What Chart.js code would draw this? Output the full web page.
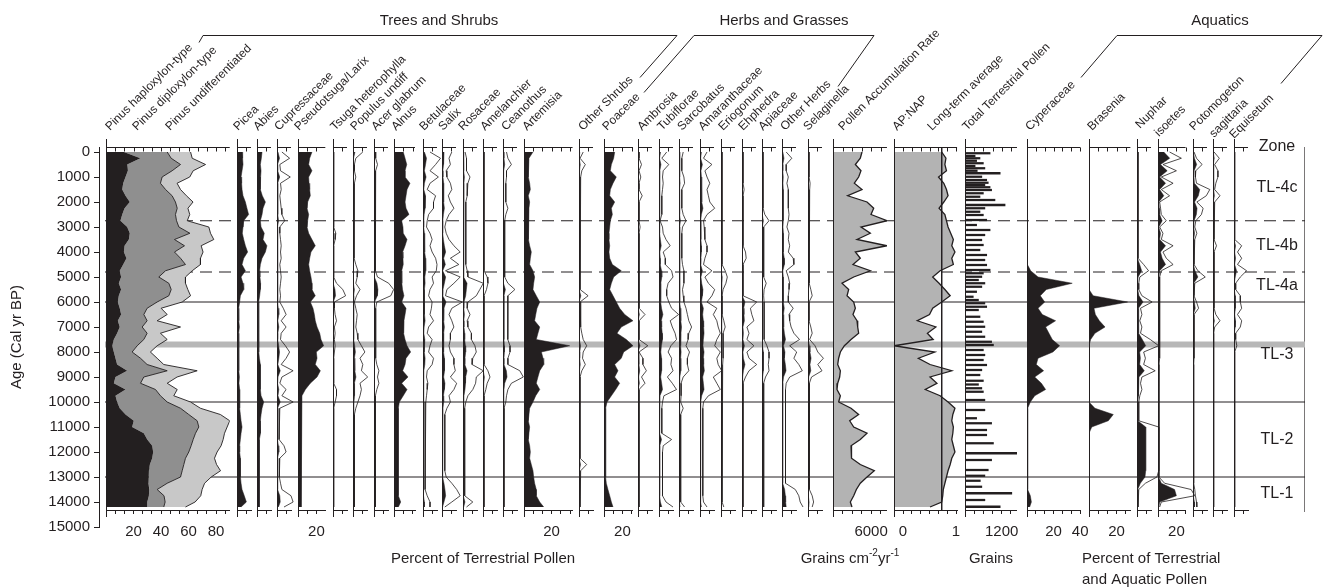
<!DOCTYPE html>
<html>
<head>
<meta charset="utf-8">
<script src="https://cdn.jsdelivr.net/npm/chart.js@4.4.1/dist/chart.umd.min.js"></script>
<style>
  body { margin: 0; background: #fff; }
  #wrap { position: relative; width: 1323px; height: 587px; overflow: hidden; }
  #wrap canvas { position: absolute; top: 0; }
</style>
</head>
<body>
<div id="wrap"><canvas id="bg" width="1323" height="587" style="left:0"></canvas></div>
<script>
const ink = '#231f20';
const fam = '"Liberation Sans", Arial, Helvetica, sans-serif';
Chart.defaults.font.family = fam;
Chart.defaults.color = ink;
Chart.defaults.animation = false;

// sample ages (cal yr BP)
const ages = [0,250,500,750,1000,1250,1500,1750,2000,2250,2500,2750,3000,3250,3500,3750,4000,4250,4500,4750,
  5000,5250,5500,5750,6000,6250,6500,6750,7000,7250,7500,7750,8000,8250,8500,8750,9000,9250,9500,9750,
  10000,10250,10500,10750,11000,11250,11500,11750,12000,12250,12500,12750,13000,13250,13500,13750,14000,14200];

// Pinus (stacked)
const pinusHaplo = [13,25,15.4,15.9,14.2,12.5,11.8,14.2,17.3,13.5,11.8,10.5,15.4,17.3,16.6,13.5,13,14.9,12.5,10,
  11,9.3,11,9.3,8.6,10,11,8.6,10,8.1,5.7,4.5,5.7,6.9,8.1,15.4,6.9,5.7,14.2,6.9,
  8.1,10,14.2,20.2,19,27.5,30,33.6,34.3,33.6,31.9,31.2,30.7,31.2,31.4,31.2,30,30];
const pinusDiplo = [31.5,22.4,38.8,32.2,26.6,27.1,31.5,33.9,33.2,38.3,38.7,40.8,37.6,43.7,33.2,43.6,36.8,39.3,45.3,33.3,
  27.4,36.4,36.4,36.4,28.6,19.9,16.5,21.3,16.3,21.8,21.8,18.2,13.3,18.2,21.8,29.1,20.6,19.4,21.8,32.7,
  36.4,44.2,46,46.1,48.5,37.6,33.4,28.3,25.9,24.2,24.7,24.2,23.5,13.3,5.8,11,13,12];
const pinusUndiff = [17,15.3,18.2,15.3,20.1,12.1,10.9,10.4,12.8,7.8,10.4,7.8,21.8,15,28.6,12.1,20.8,14.5,10.9,19.4,
  19.4,12.1,12.1,15.8,18.2,10.2,17,7.3,27.9,9.7,17,14.5,13.3,12.1,12.1,21.8,24.2,19.4,15.8,9.7,
  17,14.5,23,23.7,20.6,21.1,21.8,21.8,20.6,21.1,23.8,27.9,22.3,27.2,32.7,26.7,21.8,15.8];

// trees and shrubs (percent)
const picea = [3.6,4.0,4.3,3.6,2.9,3.3,3.6,4.3,6.0,7.1,8.3,4.8,4.3,3.8,4.8,6.0,7.6,4.8,3.6,6.0,
  2.9,4.3,4.8,2.4,1.9,1.2,1.4,1.2,1.7,1.2,1.4,1.2,1.4,1.2,1.4,1.2,1.7,1.4,1.9,1.7,
  1.9,2.1,2.4,2.9,3.6,2.9,2.4,1.9,1.9,2.4,2.6,2.4,2.4,2.9,3.6,5.2,6.7,2.9];
const abies = [3.6,3.1,2.4,2.9,2.6,2.4,2.4,3.8,6.0,4.3,3.6,2.4,2.9,5.2,4.3,7.1,6.0,3.6,2.4,1.9,
  2.1,2.6,2.4,1.9,1.2,1.4,1.2,1.4,1.2,1.2,1.4,1.2,1.2,1.7,2.4,2.4,2.4,2.4,2.4,2.9,
  4.8,3.6,2.9,2.4,2.6,2.4,1.7,1.7,1.7,1.7,1.7,1.7,1.7,1.7,1.7,1.7,1.7,1.7];
const cupressaceae = [0.7,1.8,0.4,0.5,1.9,0.5,0.6,0.4,0.5,0.6,0.7,1.1,0.4,0.4,0.5,0.6,0.5,0.6,0.4,0.5,
  0.6,0.5,0.4,0.5,0.4,0.9,1.3,0.6,1.3,0.6,0.5,1.2,1.8,1.3,0.6,2.3,0.7,0.4,1.3,0.7,
  2.3,0.4,0.3,0.3,0.3,0.3,0.3,1.0,1.3,0.4,0.3,0.3,0.4,0.5,0.7,2.0,2.3,1.0];
const pseudotsuga = [15.2,12.7,11.6,15.2,11.6,12,12.7,13.4,10.5,9.8,11.6,10.5,9.8,11.6,15.2,18.8,14.1,12.7,11.6,12.7,
  14.1,15.2,15.2,18.8,13.4,16.3,17.8,18.8,20.7,23.6,25,27.9,19.9,20.7,18.8,24.3,20.7,13.4,8,4.3,
  3.3,3.3,3.6,3.3,3.3,3.6,3.3,3.3,3.6,3.3,3.3,3.6,3.3,3.3,3.6,3.3,3.6,4.3];
const tsuga = [0.1,0.1,0.1,0.1,0.1,0.1,0.1,0.1,0.1,0.1,0.1,0.1,0.1,0.4,0.3,0.1,0.1,0.1,0.1,0.1,
  0.1,0.5,1.4,1.8,0.2,0.2,0.3,0.5,0.2,0.3,0.2,0.3,0.2,0.1,0.1,0.1,0.1,0.1,0.5,0.5,
  0.3,0.1,0.1,0.1,0.1,0.1,0.1,0.1,0.1,0.1,0.1,0.1,0.1,0.1,0.1,0.1,0.1,0.1];
const populus = [1.4,0.4,0.2,0.2,0.4,0.2,0.15,0.15,0.15,0.15,0.15,0.2,0.15,0.15,0.15,0.15,0.15,0.15,0.4,0.7,
  0.6,0.4,1.0,0.5,0.2,0.4,0.6,0.5,0.4,0.6,0.7,1.2,1.7,1.0,1.4,1.2,2.1,1.0,1.2,1.0,
  0.7,0.4,0.2,0.2,0.2,0.2,0.2,0.2,0.2,0.2,0.2,0.2,0.2,0.2,0.2,0.2,0.2,0.2];
const acer = [0.24,0.24,0.5,0.24,0.2,0.2,0.2,0.2,0.2,0.2,0.2,0.2,0.2,0.2,0.2,0.2,0.2,0.2,0.2,0.2,
  0.5,2.1,2.8,2.4,0.4,0.24,0.24,0.24,0.24,0.24,0.24,0.24,0.24,0.24,0.4,0.7,0.5,0.7,0.4,0.2,
  0.2,0.2,0.2,0.2,0.2,0.2,0.2,0.2,0.2,0.2,0.2,0.2,0.2,0.2,0.2,0.2,0.2,0.2];
const alnus = [6.6,7.9,9.1,7.9,7.9,11.4,9.3,8.6,7.9,8.6,10.7,5.5,6.4,6.6,9.3,7.9,6.2,6.4,6.6,5.5,
  5.7,5.5,6.1,7.1,5.5,8.6,7.9,7.1,6.6,7.1,7.9,9.3,11.9,8.6,7.9,6.2,10,5.5,9.3,6.6,
  3.8,3.1,3.1,3.1,3.1,3.1,3.1,3.1,3.1,3.1,3.1,3.1,3.1,3.1,3.1,3.1,4.8,3.1];
const betulaceae = [1.0,2.5,1.8,1.0,2.2,1.0,0.6,1.8,1.5,1.5,0.8,0.6,0.5,1.0,1.3,1.0,1.3,1.8,2.0,1.9,
  1.3,1.5,1.0,0.8,1.3,1.2,1.0,1.5,0.8,0.6,1.3,1.0,0.8,1.5,1.3,0.6,0.5,0.7,0.6,0.5,
  0.4,0.3,0.3,0.3,0.3,0.3,0.3,0.3,0.3,0.3,0.3,0.3,0.3,0.3,0.3,0.6,1.0,1.0];
const salix = [1.4,1.0,1.2,0.6,0.7,1.2,1.4,0.9,1.2,1.7,1.0,0.6,0.4,0.6,1.0,1.7,2.6,1.2,2.4,0.5,
  2.6,1.7,0.7,0.5,2.9,1.4,1.0,1.4,1.7,1.2,1.2,1.0,1.2,1.7,1.7,1.9,1.2,2.1,1.7,1.0,
  1.2,0.7,0.4,0.4,0.4,0.4,0.4,0.4,0.4,0.4,0.4,0.4,0.6,1.4,2.1,2.6,1.4,0.4];
const rosaceae = [0.3,0.5,0.5,0.5,1.0,0.7,0.6,0.6,0.4,0.4,0.4,0.4,0.4,0.4,0.4,0.4,0.4,0.4,0.4,0.6,
  0.7,2.9,2.4,1.9,0.7,0.6,1.0,0.6,0.7,1.2,1.2,1.7,1.9,1.4,1.3,2.9,1.9,1.8,1.4,0.7,
  0.4,0.24,0.24,0.24,0.24,0.24,0.24,0.24,0.24,0.24,0.24,0.24,0.24,0.24,0.24,0.24,1.4,0.5];
const amelanchier = [0.15,0.15,0.15,0.15,0.15,0.15,0.15,0.15,0.15,0.15,0.15,0.15,0.15,0.15,0.15,0.15,0.15,0.15,0.15,0.15,
  0.6,0.7,0.5,0.15,0.15,0.15,0.15,0.15,0.15,0.15,0.15,0.15,0.15,0.15,0.15,0.7,1.0,0.6,0.4,0.15,
  0.15,0.15,0.15,0.15,0.15,0.15,0.15,0.15,0.15,0.15,0.15,0.15,0.15,0.15,0.15,0.15,0.15,0.15];
const ceanothus = [0.5,0.7,1.2,0.5,0.5,0.4,0.4,0.4,0.4,0.7,0.4,0.24,0.24,0.24,0.24,0.24,0.24,0.24,0.24,0.24,
  0.24,0.7,1.7,0.7,0.6,0.7,0.7,0.7,0.7,0.7,0.7,1.0,1.0,0.7,0.7,2.4,2.9,1.2,0.7,0.5,
  0.4,0.15,0.15,0.15,0.15,0.15,0.15,0.15,0.15,0.15,0.15,0.15,0.15,0.15,0.15,0.15,0.15,0.15];
const artemisia = [6.5,3.6,2.9,2.9,3.6,4.1,4.6,3.1,4.1,3.6,2.9,3.1,3.6,2.9,3.6,4.1,5.3,4.6,4.1,6.5,
  7.7,7.0,6.5,8.9,11.4,9.4,8.5,7.7,11.4,10.1,8.9,33.1,12.6,13.8,14.3,11.4,10.1,8.9,11.4,8.5,
  6.5,4.1,3.6,3.1,4.1,3.6,3.1,4.1,4.6,4.1,5.3,6.5,7.0,7.7,8.9,8.9,11.4,14.3];
const otherShrubs = [0.6,0.15,0.9,0.4,0.24,0.15,0.15,0.15,0.15,0.15,0.15,0.15,0.15,0.15,0.15,0.15,0.15,0.15,0.15,0.15,
  0.15,0.15,0.24,1.3,0.15,0.24,0.24,0.24,0.24,0.4,0.6,1.1,0.6,0.5,0.9,0.4,0.15,0.15,0.15,0.15,
  0.15,0.15,0.15,0.15,0.15,0.15,0.15,0.15,0.15,0.15,1.1,0.24,0.15,0.15,0.15,0.15,0.15,0.15];

// herbs and grasses (percent)
const poaceae = [11.6,10.5,8,6.9,13.4,9.8,6.9,6.2,11.6,8,9.1,6.9,6.2,5.4,5.4,6.2,5.4,6.2,9.1,18.8,
  10.5,8,6.2,9.8,13.4,17,22.5,31.5,18.8,14.1,24.3,31.5,21.4,18.8,11.6,15.2,11.6,17,12.7,8,
  3.3,1.8,1.8,1.8,1.8,1.8,1.8,1.8,1.8,1.8,1.8,1.8,1.8,2.5,4.3,6.2,8,9.8];
const ambrosia = [0.15,0.15,0.5,0.15,0.4,0.15,0.15,0.6,0.15,0.15,0.15,0.15,0.3,0.15,0.15,0.15,0.15,0.15,0.15,0.24,
  0.15,0.15,0.15,0.15,0.15,0.15,1.0,0.15,0.15,0.15,0.15,1.4,0.15,0.7,0.7,1.2,0.5,1.0,0.15,0.15,
  0.24,0.15,0.15,0.15,0.15,0.15,0.15,0.15,0.15,0.15,0.15,0.15,0.15,0.15,0.15,0.15,0.15,0.15];
const tubiflorae = [1.1,0.4,1.4,0.6,0.5,0.6,0.5,0.4,0.4,0.4,0.4,0.15,0.5,0.6,1.0,1.6,0.6,0.9,0.9,1.8,
  2.0,1.3,1.1,1.1,1.4,1.8,2.8,1.6,1.9,2.3,2.5,1.7,1.3,1.8,1.7,2.0,1.2,1.9,2.5,0.7,
  0.5,0.4,0.4,0.4,0.4,0.4,1.8,0.6,0.5,0.5,0.5,0.5,0.5,0.5,0.5,0.5,1.0,2.0];
const sarcobatus = [0.6,0.4,0.4,0.4,0.7,0.8,0.4,0.4,0.4,0.4,0.6,1.0,0.5,0.4,0.4,0.4,0.4,0.4,0.5,0.7,
  0.7,0.7,0.5,0.6,0.7,1.0,1.2,1.4,1.8,1.4,1.3,1.0,1.5,1.2,1.2,1.4,0.6,0.3,0.3,0.3,
  0.24,0.6,0.24,0.24,0.24,0.24,0.24,0.24,0.24,0.24,0.24,0.24,0.24,0.24,0.24,0.24,0.24,0.8];
const amaranthaceae = [1.0,0.5,1.7,0.7,1.0,1.4,1.0,1.2,1.4,2.1,1.0,0.5,0.6,0.7,0.7,1.0,1.0,0.7,0.5,1.7,
  0.7,1.2,2.1,1.7,1.0,2.4,1.9,2.4,2.6,2.9,2.4,2.1,2.9,2.4,2.6,3.1,1.9,2.4,2.9,1.2,
  0.5,0.4,0.4,0.4,0.4,0.4,0.4,0.4,0.4,0.4,0.4,0.4,0.4,0.4,0.4,0.4,0.5,1.0];
const eriogonum = [0.15,0.15,0.15,0.15,0.15,0.15,0.15,0.15,0.15,0.15,0.15,0.15,0.15,0.15,0.15,0.15,0.15,0.15,0.15,0.6,
  0.9,0.7,0.3,0.15,0.15,0.15,0.15,0.4,0.6,0.3,0.3,0.3,0.3,0.3,0.24,0.2,0.15,0.15,0.15,0.15,
  0.15,0.15,0.15,0.15,0.15,0.15,0.15,0.15,0.15,0.15,0.15,0.15,0.15,0.15,0.15,0.15,0.15,0.4];
const ephedra = [0.15,0.15,0.15,0.15,0.15,0.15,0.3,0.15,0.15,0.15,0.15,0.15,0.15,0.15,0.15,0.15,0.5,0.6,0.15,0.15,
  0.15,0.15,0.15,0.15,2.1,1.2,1.4,1.7,0.7,1.0,0.7,1.7,0.7,1.0,2.1,1.0,0.5,0.15,0.15,0.15,
  0.15,0.15,0.15,0.15,0.15,0.15,0.15,0.15,0.15,0.15,0.15,0.15,0.15,0.15,0.15,0.15,0.15,0.15];
const apiaceae = [0.15,0.15,0.15,0.15,0.15,0.15,0.15,0.15,0.15,0.15,0.4,1.0,0.24,0.24,0.24,0.24,0.24,0.24,0.24,0.24,
  0.24,0.6,0.3,0.24,0.3,0.3,0.3,0.3,0.3,0.3,0.3,0.7,1.0,1.0,0.9,1.0,0.5,0.24,0.24,0.24,
  0.24,0.24,0.24,0.24,0.24,0.24,0.24,0.24,0.24,0.24,0.24,0.24,0.24,0.24,0.24,0.24,0.24,0.24];
const otherHerbs = [0.6,1.4,0.6,0.6,0.9,0.7,0.9,0.9,0.9,0.9,1.0,0.9,0.7,1.0,0.9,1.1,0.9,1.6,1.7,0.6,
  0.9,1.1,1.0,0.9,0.9,1.6,1.0,1.1,1.3,1.7,2.5,1.1,2.1,1.7,2.4,2.9,1.1,0.6,0.5,0.5,
  0.5,0.5,0.5,0.5,0.5,0.5,0.5,0.5,0.5,0.5,0.5,0.5,0.5,0.5,1.9,2.4,2.6,3.0];
const selaginella = [0.15,0.15,0.15,0.15,0.15,0.3,0.24,0.24,0.24,0.24,0.24,0.15,0.15,0.15,0.15,0.15,0.15,0.15,0.15,0.15,
  0.15,0.15,0.4,0.6,0.15,0.15,0.15,0.15,0.4,0.6,0.24,1.0,1.4,2.2,1.4,2.0,0.5,0.2,0.2,0.2,
  0.2,0.2,0.2,0.2,0.2,0.2,0.2,0.2,0.2,0.2,0.2,0.2,0.2,0.2,0.2,0.6,0.8,0.6];

// pollen accumulation rate (grains cm-2 yr-1), AP:NAP ratio
const pollenAccRate = [4570,4300,3520,4410,4040,3360,4570,2310,5360,6410,5990,8500,4410,5880,3780,8480,3520,4300,3150,5880,
  3260,1420,2470,2210,3260,3520,3150,3780,3890,4040,2840,1790,1160,890,740,1160,1050,740,630,1160,
  890,2840,4040,2630,3260,5360,4300,2840,2840,2990,4300,6510,5360,4300,3680,3260,2730,2990];
const apNap = [0.73,0.81,0.79,0.82,0.67,0.77,0.82,0.85,0.77,0.68,0.79,0.82,0.85,0.9,0.95,0.92,0.98,0.92,0.95,0.7,
  0.56,0.68,0.79,0.89,0.73,0.56,0.5,0.27,0.62,0.46,0.57,-0.17,0.6,0.29,0.51,0.92,0.51,0.64,0.42,0.7,
  0.85,0.98,0.94,0.92,0.95,0.94,0.92,0.95,0.98,0.92,0.89,0.85,0.82,0.79,0.76,0.75,0.73,0.51];
const longTermAverage = 0.73;

// total terrestrial pollen counted per sample
const totalAges = [50,160,250,350,450,560,650,750,850,990,1120,1230,1320,1410,1520,1650,1790,1920,2120,2250,
  2390,2520,2720,2920,3120,3320,3520,3720,3920,4120,4320,4520,4720,4850,4990,5120,5250,5390,5590,5790,
  5920,6050,6190,6320,6590,6790,6990,7190,7390,7590,7720,7920,8120,8320,8520,8720,8920,9150,9300,9450,
  9590,9920,10320,10650,10850,11120,11320,11650,12050,12320,12720,12950,13150,13390,13650,13920,14190];
const totalCounts = [820,330,490,380,600,330,650,400,1150,550,710,760,650,820,870,600,490,980,1310,650,
  490,600,710,380,820,650,550,600,490,710,650,710,820,600,550,440,650,550,380,270,
  440,650,710,440,490,600,650,550,650,870,930,600,650,600,710,550,490,600,440,550,
  600,650,650,380,870,710,710,930,1700,870,760,650,500,550,1530,650,1150];

// aquatics (percent of terrestrial and aquatic pollen)
const cyperaceae = [0.3,0.3,0.3,0.3,0.3,0.3,0.3,0.3,0.3,0.3,0.3,0.3,0.3,0.3,0.3,0.3,0.3,0.3,0.3,2.75,
  8.3,34,14.5,10,13.3,8.3,11.5,21.5,14,16.5,19,24.5,19.5,8.3,7,12.5,5.8,10.8,14,5.8,
  2.5,0.5,0.5,0.5,0.5,0.5,0.5,0.5,0.5,0.5,0.5,0.5,0.5,0.5,0.5,2.5,3.3,2];
const brasenia = [0,0,0,0,0,0,0,0,0,0,0,0,0,0,0,0,0,0,0,0,
  0,0,0,3,28,3.6,4.6,7.5,11.6,4.3,1.2,0,0,0,0,0,0,0,0,0,
  0,4.3,17.6,14,2,0,0,0,0,0,0,0,0,0,0,0,0,0];
const nuphar = [0.3,0.3,0.3,0.3,0.3,0.3,0.3,0.3,0.3,0.3,0.3,0.3,0.3,0.3,0.3,0.3,0.3,0.3,1.9,3.3,
  0.8,0.5,0.5,1.4,4.3,1.0,1.4,0.8,1.4,1.0,3.8,6.2,1.9,2.4,1.9,5.2,1.4,1.0,1.4,0.8,
  0.5,0.5,0.5,0.5,6.2,6.2,6.2,6.2,6.2,6.2,6.2,6.2,5.7,2.4,0.5,0.3,0.3,0.3];
const isoetes = [6.3,12.7,2.7,10,1.8,8.2,1.8,6.3,0.9,1.4,1.8,4.5,0.9,2.7,1.8,8.2,2.7,4.5,8.2,1.8,
  0.9,0.9,0.9,0.9,0.9,0.9,0.9,0.9,0.9,0.9,0.9,0.9,0.9,0.9,0.5,0.5,0.5,0.5,0.5,0.5,
  0.5,0.5,0.5,0.5,0.5,0.5,0.5,0.5,0.5,0.5,0.5,0.5,0.5,3.6,18,20,1.8,0.9];
const potamogeton = [0.3,1.0,2.6,0.8,0.7,1.0,4.8,3.8,1.1,2.9,2.4,0.8,0.5,1.1,0.5,0.3,0.3,0.3,0.3,1.4,
  3.5,0.5,0.3,0.3,1.0,1.6,0.3,0.3,0.3,0.3,0.3,0.3,0.3,0.3,0.2,0.2,0.2,0.2,0.2,0.2,
  0.2,0.2,0.2,0.2,0.2,0.2,0.2,0.2,0.2,0.2,0.2,0.2,0.2,0.2,0.5,0.7,1.0,1.1];
const sagittaria = [0.15,0.9,0.24,0.7,0.7,0.4,0.24,1.0,0.24,0.15,0.15,0.15,0.15,0.15,0.15,0.5,0.15,0.15,0.15,0.15,
  0.15,0.15,0.15,0.15,0.15,0.15,0.4,1.0,0.24,0.1,0.1,0.1,0.1,0.1,0.1,0.1,0.1,0.1,0.1,0.1,
  0.1,0.1,0.1,0.1,0.1,0.1,0.1,0.1,0.1,0.1,0.1,0.1,0.1,0.1,0.1,0.1,0.1,0.1];
const equisetum = [0.1,0.1,0.1,0.1,0.1,0.1,0.1,0.1,0.1,0.1,0.1,0.1,0.1,0.1,0.1,1.1,0.5,1.1,0.5,1.8,
  0.9,0.24,0.24,0.9,0.9,1.1,0.5,1.1,0.9,0.24,0.24,0.4,0.1,0.1,0.1,0.1,0.1,0.1,0.1,0.1,
  0.1,0.1,0.1,0.1,0.1,0.1,0.1,0.1,0.1,0.1,0.1,0.1,0.1,0.1,0.1,0.1,0.1,0.1];

// zones
const zoneBounds = [2750, 4800, 6000, 10000, 13000];
const zoneDashed = [true, true, false, false, false];
const eventAge = 7700;
const zoneNames = ['TL-4c', 'TL-4b', 'TL-4a', 'TL-3', 'TL-2', 'TL-1'];
const zoneLabelAges = [1440, 3760, 5350, 8120, 11520, 13680];
const ageTicks = [0,1000,2000,3000,4000,5000,6000,7000,8000,9000,10000,11000,12000,13000,14000,15000];

// ---- layout ----
const H = 587, panelTop = 147, panelBottom = 510, axisH = 45;
const yTop = -200, yBottom = 14320;
const padL = 10, extraR = 45;

const panels = [
  {kind: 'pinus', left: 105.5, ppu: 1.375, max: 90, labels: [20, 40, 60, 80],
   names: [['Pinus haploxylon-type', 110, 131], ['Pinus diploxylon-type', 137, 131], ['Pinus undifferentiated', 170, 131]]},
  {kind: 'solid', left: 236.7, data: picea, names: [['Picea', 238, 131]]},
  {kind: 'solid', left: 256.7, data: abies, names: [['Abies', 258, 131]]},
  {kind: 'exag', left: 277.3, data: cupressaceae, names: [['Cupressaceae', 279, 131]]},
  {kind: 'solid', left: 297.7, data: pseudotsuga, ppu: 0.92, max: 29.7, step: 10, labels: [20], names: [['Pseudotsuga/Larix', 299, 131]]},
  {kind: 'exag', left: 333.3, data: tsuga, names: [['Tsuga heterophylla', 335, 131]]},
  {kind: 'exag', left: 353.3, data: populus, names: [['Populus undiff', 355, 131]]},
  {kind: 'exag', left: 374, data: acer, names: [['Acer glabrum', 376, 131]]},
  {kind: 'solid', left: 394, data: alnus, max: 15, names: [['Alnus', 396, 131]]},
  {kind: 'exag', left: 422.7, data: betulaceae, names: [['Betulaceae', 424, 131]]},
  {kind: 'exag', left: 441.7, data: salix, names: [['Salix', 443, 131]]},
  {kind: 'exag', left: 462.7, data: rosaceae, names: [['Rosaceae', 463, 131]]},
  {kind: 'exag', left: 483.3, data: amelanchier, names: [['Amelanchier', 485, 131]]},
  {kind: 'exag', left: 503.3, data: ceanothus, names: [['Ceanothus', 506, 131]]},
  {kind: 'solid', left: 524.3, data: artemisia, ppu: 1.38, max: 35.2, labels: [20], names: [['Artemisia', 527, 131]]},
  {kind: 'exag', left: 579, data: otherShrubs, names: [['Other Shrubs', 583, 131]]},
  {kind: 'solid', left: 604.3, data: poaceae, ppu: 0.92, max: 31.5, step: 10, labels: [20], names: [['Poaceae', 607, 131]]},
  {kind: 'exag', left: 638.3, data: ambrosia, names: [['Ambrosia', 642, 131]]},
  {kind: 'exag', left: 659, data: tubiflorae, names: [['Tubiflorae', 662, 131]]},
  {kind: 'exag', left: 679.3, data: sarcobatus, names: [['Sarcobatus', 682, 131]]},
  {kind: 'exag', left: 700, data: amaranthaceae, names: [['Amaranthaceae', 703, 131]]},
  {kind: 'exag', left: 721, data: eriogonum, names: [['Eriogonum', 723, 131]]},
  {kind: 'exag', left: 741.7, data: ephedra, names: [['Ehphedra', 743, 131]]},
  {kind: 'exag', left: 761.7, data: apiaceae, names: [['Apiaceae', 763, 131]]},
  {kind: 'exag', left: 782.3, data: otherHerbs, names: [['Other Herbs', 785, 131]]},
  {kind: 'exag', left: 807.7, data: selaginella, names: [['Selaginella', 808, 131]]},
  {kind: 'gray', left: 832.7, data: pollenAccRate, ppu: 1 / 157.5, max: 8500, step: 1500, labels: [6000],
   names: [['Pollen Accumulation Rate', 843, 131]]},
  {kind: 'apnap', left: 894, data: apNap, ppu: 53, min: -0.17, max: 1.02, step: 1 / 6, tickStart: -1 / 6, labels: [0, 1],
   names: [['AP:NAP', 897, 131], ['Long-term average', 932, 131]]},
  {kind: 'bars', left: 965, ppu: 36.7 / 1200, max: 1700, step: 300, labels: [1200], names: [['Total Terrestrial Pollen', 967, 131]]},
  {kind: 'solid', left: 1027.3, data: cyperaceae, ppu: 1.33, max: 40, labels: [20, 40], names: [['Cyperaceae', 1030, 131]]},
  {kind: 'solid', left: 1089, data: brasenia, ppu: 1.38, max: 30, labels: [20], names: [['Brasenia', 1092, 131]]},
  {kind: 'exag', left: 1137, data: nuphar, exag: 2.5, names: [['Nuphar', 1140, 129]]},
  {kind: 'exag', left: 1158.3, data: isoetes, exag: 2, ppu: 0.92, max: 30, step: 10, labels: [20], names: [['isoetes', 1159, 137]]},
  {kind: 'exag', left: 1193, data: potamogeton, exag: 2.5, names: [['Potomogeton', 1194, 131]]},
  {kind: 'exag', left: 1213.3, data: sagittaria, names: [['sagittaria', 1214, 138]]},
  {kind: 'exag', left: 1234, data: equisetum, names: [['Equisetum', 1234, 139]]}
];

const pts = vals => ages.map((a, i) => ({x: vals[i], y: a}));

function tickValues(p) {
  const out = [];
  const start = p.tickStart !== undefined ? p.tickStart : (p.min || 0);
  for (let v = start; v <= p.max + 1e-6; v += p.step) out.push(v);
  return out;
}

function datasetsFor(p) {
  const line = {pointRadius: 0, tension: 0};
  if (p.kind === 'pinus') {
    return [
      {...line, data: pts(pinusHaplo), fill: 'origin', backgroundColor: ink, borderColor: ink, borderWidth: 0},
      {...line, data: pts(pinusDiplo), fill: '-1', backgroundColor: '#8f8f8f', borderColor: ink, borderWidth: 0.9},
      {...line, data: pts(pinusUndiff), fill: '-1', backgroundColor: '#c8c8c8', borderColor: ink, borderWidth: 0.9}
    ];
  }
  if (p.kind === 'solid') {
    return [{...line, data: pts(p.data), fill: 'origin', backgroundColor: ink, borderColor: ink, borderWidth: 0.5}];
  }
  if (p.kind === 'exag') {
    return [
      {...line, data: pts(p.data), fill: 'origin', backgroundColor: ink, borderColor: ink, borderWidth: 0.5},
      {...line, data: pts(p.data.map(v => v * p.exag)), fill: false, borderColor: ink, borderWidth: 0.8,
       clip: {left: 0, top: 0, right: extraR - 5, bottom: 0}}
    ];
  }
  if (p.kind === 'gray') {
    return [{...line, data: pts(p.data), fill: 'origin', backgroundColor: '#b3b3b3', borderColor: ink, borderWidth: 1.3}];
  }
  if (p.kind === 'apnap') {
    return [
      {...line, data: [{x: longTermAverage, y: yTop}, {x: longTermAverage, y: yBottom}], fill: false, borderColor: ink, borderWidth: 1},
      {...line, data: pts(p.data), fill: {value: p.min}, backgroundColor: '#b3b3b3', borderColor: ink, borderWidth: 1.3}
    ];
  }
  // bars
  return [{data: totalAges.map((a, i) => ({x: totalCounts[i], y: a})), backgroundColor: ink, borderWidth: 0, barThickness: 1.6}];
}

// top axis, left spine and top ticks for every panel
const frame = {
  id: 'frame',
  afterDatasetsDraw(chart) {
    const {ctx, chartArea: a} = chart;
    const x = chart.scales.x;
    ctx.save();
    ctx.strokeStyle = ink;
    ctx.lineWidth = 1;
    const xl = Math.round(a.left) + 0.5;
    const yt = Math.round(a.top) + 0.5;
    ctx.beginPath();
    ctx.moveTo(xl, a.top - 8);
    ctx.lineTo(xl, a.bottom + 7);
    ctx.moveTo(a.left, yt);
    ctx.lineTo(a.right, yt);
    x.ticks.forEach(t => {
      const px = Math.round(x.getPixelForValue(t.value)) + 0.5;
      ctx.moveTo(px, yt);
      ctx.lineTo(px, yt + 4);
    });
    ctx.stroke();
    ctx.restore();
  }
};

const wrap = document.getElementById('wrap');

panels.forEach(p => {
  p.ppu = p.ppu || 1.4;
  p.max = p.max || 10;
  p.step = p.step || 20 / 3;
  p.exag = p.exag || 5;
  const min = p.min || 0;
  const width = (p.max - min) * p.ppu;
  const cv = document.createElement('canvas');
  const cw = Math.ceil(padL + width + extraR);
  cv.width = cw;
  cv.height = H;
  cv.style.left = (Math.round(p.left) - padL) + 'px';
  wrap.appendChild(cv);
  const labels = p.labels || [];
  new Chart(cv, {
    type: p.kind === 'bars' ? 'bar' : 'line',
    data: {datasets: datasetsFor(p)},
    options: {
      responsive: false,
      animation: false,
      events: [],
      indexAxis: 'y',
      layout: {padding: {left: padL, right: cw - padL - width, top: panelTop, bottom: H - panelBottom - axisH}},
      plugins: {legend: {display: false}, tooltip: {enabled: false}},
      scales: {
        y: {type: 'linear', reverse: true, min: yTop, max: yBottom, display: false, offset: false},
        x: {
          type: 'linear', min: min, max: p.max, stacked: p.kind === 'pinus', position: 'bottom',
          afterBuildTicks: s => { s.ticks = tickValues(p).map(v => ({value: v})); },
          afterFit: s => { s.height = axisH; },
          ticks: {
            autoSkip: false, maxRotation: 0, minRotation: 0, padding: 9, font: {size: 15},
            callback: v => {
              const hit = labels.find(l => Math.abs(l - v) < 1e-6);
              return hit !== undefined ? String(hit) : '';
            }
          },
          grid: {display: true, drawOnChartArea: false, drawTicks: true, tickLength: 4, color: ink, tickColor: ink, lineWidth: 1},
          border: {display: true, color: ink, width: 1}
        }
      }
    },
    plugins: [frame]
  });
});

// ---- background: age axis, zone lines, headings ----
const xFrom = 105, xTo = 1305;
const zoneSets = zoneBounds.map((b, i) => ({
  data: [{x: xFrom, y: b}, {x: xTo, y: b}], borderColor: ink, borderWidth: 1,
  borderDash: zoneDashed[i] ? [12, 7] : [], pointRadius: 0
}));
zoneSets.push({data: [{x: xFrom, y: eventAge}, {x: xTo, y: eventAge}], borderColor: '#b7b7b7', borderWidth: 6, pointRadius: 0});
zoneSets.push({data: [{x: xTo, y: yTop}, {x: xTo, y: 14400}], borderColor: ink, borderWidth: 1.2, pointRadius: 0});

const groups = [['Trees and Shrubs', 439], ['Herbs and Grasses', 784], ['Aquatics', 1220]];
const brackets = [
  [[199, 42], [203, 35], [677, 35], [640, 77]],
  [[644, 92], [694, 35], [874, 35], [838, 86]],
  [[1081, 77], [1117, 35], [1322, 35], [1281, 83]]
];

const decor = {
  id: 'decor',
  afterDraw(chart) {
    const ctx = chart.ctx;
    const y = chart.scales.y;
    ctx.save();
    ctx.fillStyle = ink;
    ctx.strokeStyle = ink;
    ctx.lineWidth = 1;
    ctx.font = '15px ' + fam;
    ctx.textAlign = 'center';
    ctx.textBaseline = 'middle';
    groups.forEach(([t, gx]) => ctx.fillText(t, gx, 21));
    brackets.forEach(b => {
      ctx.beginPath();
      b.forEach(([bx, by], k) => k ? ctx.lineTo(bx, by + 0.5) : ctx.moveTo(bx, by + 0.5));
      ctx.stroke();
    });

    // taxon names
    ctx.font = '12px ' + fam;
    ctx.textAlign = 'left';
    ctx.textBaseline = 'alphabetic';
    panels.forEach(p => p.names.forEach(([t, nx, ny]) => {
      ctx.save();
      ctx.translate(nx, ny);
      ctx.rotate(-Math.PI / 4);
      ctx.fillText(t, 0, 0);
      ctx.restore();
    }));

    // axis titles under the panels
    ctx.font = '15px ' + fam;
    ctx.textAlign = 'center';
    ctx.textBaseline = 'middle';
    ctx.fillText('Percent of Terrestrial Pollen', 483, 559);
    ctx.fillText('Grains', 991, 559);
    ctx.textAlign = 'left';
    ctx.fillText('Percent of Terrestrial', 1082, 559);
    ctx.fillText('and Aquatic Pollen', 1082, 580);

    const parts = [['Grains cm', 15, 0], ['-2', 10, -6], ['yr', 15, 0], ['-1', 10, -6]];
    let total = 0;
    parts.forEach(([t, s]) => { ctx.font = s + 'px ' + fam; total += ctx.measureText(t).width; });
    let cx = 850 - total / 2;
    parts.forEach(([t, s, dy]) => {
      ctx.font = s + 'px ' + fam;
      ctx.fillText(t, cx, 559 + dy);
      cx += ctx.measureText(t).width;
    });

    // zone labels
    ctx.font = '16px ' + fam;
    ctx.textAlign = 'center';
    ctx.fillText('Zone', 1277, chart.chartArea.top);
    zoneNames.forEach((z, i) => ctx.fillText(z, 1277, y.getPixelForValue(zoneLabelAges[i])));
    ctx.restore();
  }
};

new Chart(document.getElementById('bg'), {
  type: 'line',
  data: {datasets: zoneSets},
  options: {
    responsive: false,
    animation: false,
    events: [],
    layout: {padding: {left: 0, right: 1323 - xTo, top: panelTop, bottom: 60}},
    plugins: {legend: {display: false}, tooltip: {enabled: false}},
    scales: {
      x: {type: 'linear', min: 99, max: xTo, display: false},
      y: {
        type: 'linear', reverse: true, min: yTop, max: 15000, position: 'left',
        afterBuildTicks: s => { s.ticks = ageTicks.map(v => ({value: v})); },
        afterFit: s => { s.width = 99; },
        ticks: {autoSkip: false, padding: 4, font: {size: 15}, callback: v => String(v)},
        grid: {drawOnChartArea: false, tickLength: 5, color: ink, tickColor: ink},
        border: {display: true, color: ink, width: 1},
        title: {display: true, text: 'Age (Cal yr BP)', font: {size: 15}, padding: {top: 8, bottom: 0}}
      }
    }
  },
  plugins: [decor]
});
</script>
</body>
</html>
